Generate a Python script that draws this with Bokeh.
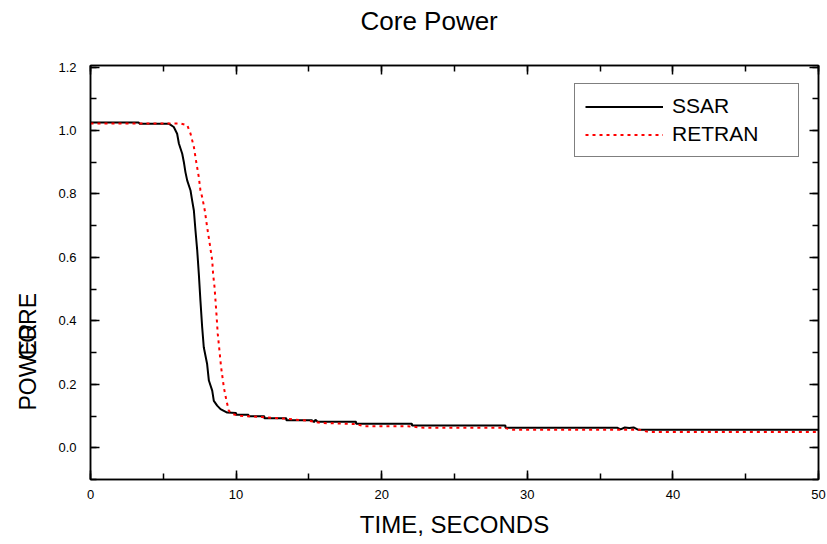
from bokeh.plotting import figure
from bokeh.models import (Range1d, SingleIntervalTicker, LinearAxis, Legend, Title,
                          LegendItem, PrintfTickFormatter, ColumnDataSource, CustomJSTickFormatter)
from bokeh.embed import file_html
from bokeh.resources import INLINE

# ---- data ----
ssar_t = [0, 3.3, 3.4, 5.4, 5.72, 5.95, 6.07, 6.30, 6.41, 6.52, 6.64, 6.87, 6.98, 7.10,
          7.21, 7.33, 7.44, 7.55, 7.67, 7.78, 8.01, 8.13, 8.36, 8.47, 8.70, 8.93, 9.39,
          10.0, 10.0, 10.85, 10.85, 11.94, 11.94, 13.45, 13.45, 15.2, 15.35, 15.45, 15.6,
          18.24, 18.24, 22.08, 22.08, 28.5, 28.5, 36.2, 36.4, 36.7, 37.0, 37.3, 37.6, 50]
ssar_p = [1.025, 1.025, 1.021, 1.021, 1.011, 0.990, 0.959, 0.927, 0.901, 0.869, 0.843, 0.811,
          0.780, 0.748, 0.685, 0.622, 0.548, 0.464, 0.380, 0.317, 0.264, 0.212, 0.180, 0.148,
          0.133, 0.122, 0.111, 0.110, 0.104, 0.104, 0.099, 0.099, 0.093, 0.093, 0.087, 0.087,
          0.081, 0.088, 0.082, 0.082, 0.076, 0.076, 0.070, 0.070, 0.063, 0.063, 0.058, 0.064,
          0.062, 0.064, 0.057, 0.057]

retran_t = [0, 6.2, 6.64, 6.87, 7.10, 7.28, 7.44, 7.55, 7.67, 7.85, 8.01, 8.19, 8.36, 8.42,
            8.52, 8.65, 8.74, 8.88, 8.97, 9.16, 9.34, 9.50, 9.73, 10.3, 11.4, 13.3, 15.0,
            15.9, 18.2, 18.8, 21.8, 22.9, 28.4, 28.9, 37.7, 38.3, 50]
retran_p = [1.022, 1.022, 1.017, 0.990, 0.948, 0.896, 0.853, 0.811, 0.790, 0.748, 0.696,
            0.643, 0.590, 0.548, 0.506, 0.422, 0.359, 0.296, 0.254, 0.190, 0.148, 0.117,
            0.106, 0.101, 0.098, 0.092, 0.085, 0.078, 0.075, 0.068, 0.068, 0.063, 0.063,
            0.057, 0.057, 0.050, 0.050]

series_names = ["SSAR", "RETRAN"]
title_text = "Core Power"
x_title = "TIME, SECONDS"
y_title_parts = ["POWER", "CORE"]

FONT = "Liberation Sans"
W, H = 827, 544
NB = "\u00a0"

p = figure(width=W, height=H, x_range=Range1d(0, 50), y_range=Range1d(-0.1, 1.205),
           output_backend="svg", toolbar_location=None,
           min_border_left=90, min_border_right=9, min_border_top=65, min_border_bottom=65)
p.grid.visible = False
p.outline_line_color = "black"
p.outline_line_width = 1.5
p.background_fill_color = "white"
p.border_fill_color = "white"

blank = CustomJSTickFormatter(code="return ''")
p.add_layout(LinearAxis(formatter=blank, major_label_standoff=0), "above")
p.add_layout(LinearAxis(formatter=blank, major_label_standoff=0), "right")

for ax in p.xaxis:
    ax.ticker = SingleIntervalTicker(interval=10, num_minor_ticks=2)
for ax in p.yaxis:
    ax.ticker = SingleIntervalTicker(interval=0.2, num_minor_ticks=2)
p.left[0].formatter = PrintfTickFormatter(format="%.1f")

for ax in p.axis:
    ax.axis_line_color = "black"
    ax.axis_line_width = 1.5
    ax.major_tick_in = 9
    ax.major_tick_out = 0
    ax.minor_tick_in = 6
    ax.minor_tick_out = 0
    ax.major_tick_line_color = "black"
    ax.minor_tick_line_color = "black"
    ax.major_tick_line_width = 1.5
    ax.minor_tick_line_width = 1.5
    ax.major_label_text_font = FONT
    ax.major_label_text_font_size = "13px"
    ax.major_label_text_color = "black"

p.below[0].major_label_standoff = 10
p.left[0].major_label_standoff = 14
p.below[0].axis_label = x_title
p.below[0].axis_label_standoff = 9
p.below[0].axis_label_text_font = FONT
p.below[0].axis_label_text_font_size = "24px"
p.below[0].axis_label_text_font_style = "normal"
p.below[0].axis_label_text_color = "black"

src1 = ColumnDataSource(dict(t=ssar_t, p=ssar_p))
src2 = ColumnDataSource(dict(t=retran_t, p=retran_p))
r1 = p.line("t", "p", source=src1, line_color="black", line_width=2)
r2 = p.line("t", "p", source=src2, line_color="#ff0000", line_width=2, line_dash="3 4")

legend = Legend(items=[LegendItem(label=series_names[0], renderers=[r1]),
                       LegendItem(label=series_names[1], renderers=[r2])],
                location=(484, 322), padding=10, spacing=4, glyph_width=78, glyph_height=21,
                label_height=21, label_standoff=9, label_width=116,
                label_text_font=FONT, label_text_font_size="21px", label_text_color="black",
                border_line_color="black", border_line_width=1.5,
                background_fill_color="white", background_fill_alpha=1.0, margin=0)
p.add_layout(legend)

# main title: a trailing empty line lifts the visible line towards the top edge
p.title.text = title_text + "\n"
p.title.align = "left"
p.title.offset = 270
p.title.standoff = 0
p.title.text_font = FONT
p.title.text_font_size = "26px"
p.title.text_font_style = "normal"
p.title.text_color = "black"

# y-axis title: the two words are drawn on top of each other, as in the reference
ytitle = Title(text=y_title_parts[0] + NB * 5 + "\n" + NB * 8 + y_title_parts[1],
               align="left", offset=69, standoff=27, vertical_align="middle",
               text_line_height=0.001,
               text_font=FONT, text_font_size="23px", text_font_style="normal", text_color="black")
p.add_layout(ytitle, "left")

open("out.html", "w").write(file_html(p, INLINE))
